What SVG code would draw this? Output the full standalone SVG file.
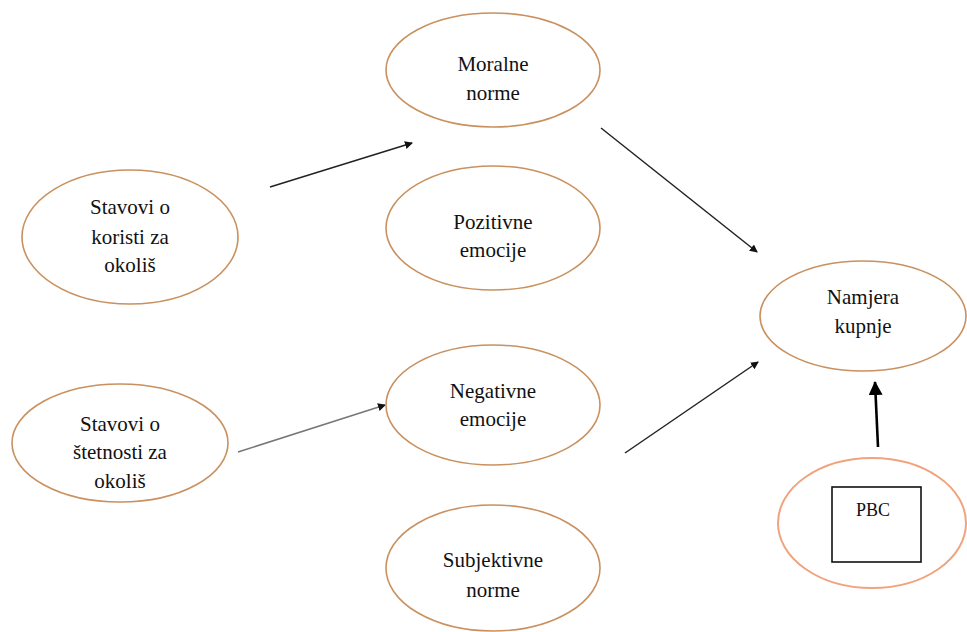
<svg xmlns="http://www.w3.org/2000/svg" width="967" height="632" viewBox="0 0 967 632">
<defs>
<style>
.n{fill:#fff;stroke:#c9915f;stroke-width:1.6}
.c{stroke:#222;stroke-width:1.5;fill:none}
</style>
<marker id="a" markerWidth="8" markerHeight="8" refX="7" refY="4" orient="auto" markerUnits="userSpaceOnUse">
<path d="M0,0 L8,4 L0,8 z" fill="#111"/>
</marker>
<marker id="b" markerWidth="14" markerHeight="14" refX="13" refY="7" orient="auto" markerUnits="userSpaceOnUse">
<path d="M0,0 L14,7 L0,14 z" fill="#000"/>
</marker>
</defs>
<rect width="967" height="632" fill="#fff"/>
<g id="connectors">
<line class="c" x1="270" y1="187" x2="412" y2="143" marker-end="url(#a)"/>
<line class="c" x1="601" y1="128" x2="757" y2="252" marker-end="url(#a)"/>
<line class="c" x1="238" y1="452" x2="385" y2="405" style="stroke:#777" marker-end="url(#a)"/>
<line class="c" x1="625" y1="453" x2="758" y2="362" marker-end="url(#a)"/>
<line x1="878" y1="447" x2="875" y2="382" stroke="#000" stroke-width="2.6" marker-end="url(#b)"/>
</g>
<g font-family="Liberation Serif, Times New Roman, DejaVu Serif, serif" font-size="21" fill="#111" text-anchor="middle">
<g id="moralne">
<ellipse class="n" cx="493" cy="70" rx="107" ry="57"/>
<text x="493" y="71">Moralne</text>
<text x="493" y="100">norme</text>
</g>
<g id="pozitivne">
<ellipse class="n" cx="493" cy="228" rx="107" ry="62"/>
<text x="493" y="229">Pozitivne</text>
<text x="493" y="257">emocije</text>
</g>
<g id="negativne">
<ellipse class="n" cx="493" cy="405" rx="107" ry="60"/>
<text x="493" y="398">Negativne</text>
<text x="493" y="426">emocije</text>
</g>
<g id="subjektivne">
<ellipse class="n" cx="493" cy="568" rx="107" ry="63"/>
<text x="493" y="567">Subjektivne</text>
<text x="493" y="597">norme</text>
</g>
<g id="koristi">
<ellipse class="n" cx="130" cy="237" rx="108" ry="67"/>
<text x="130" y="214">Stavovi o</text>
<text x="130" y="244">koristi za</text>
<text x="130" y="272">okoliš</text>
</g>
<g id="stetnosti">
<ellipse class="n" cx="120" cy="443" rx="108" ry="59"/>
<text x="120" y="431">Stavovi o</text>
<text x="120" y="459">štetnosti za</text>
<text x="120" y="488">okoliš</text>
</g>
<g id="namjera">
<ellipse class="n" cx="863" cy="316" rx="103" ry="55"/>
<text x="863" y="304">Namjera</text>
<text x="863" y="333">kupnje</text>
</g>
<g id="pbc">
<ellipse cx="872" cy="523" rx="94" ry="65" fill="#fff" stroke="#f0a47e" stroke-width="2"/>
<rect x="832" y="487" width="89" height="75" fill="#fff" stroke="#111" stroke-width="1.6"/>
<text x="873" y="516" font-size="18">PBC</text>
</g>
</g>
</svg>
